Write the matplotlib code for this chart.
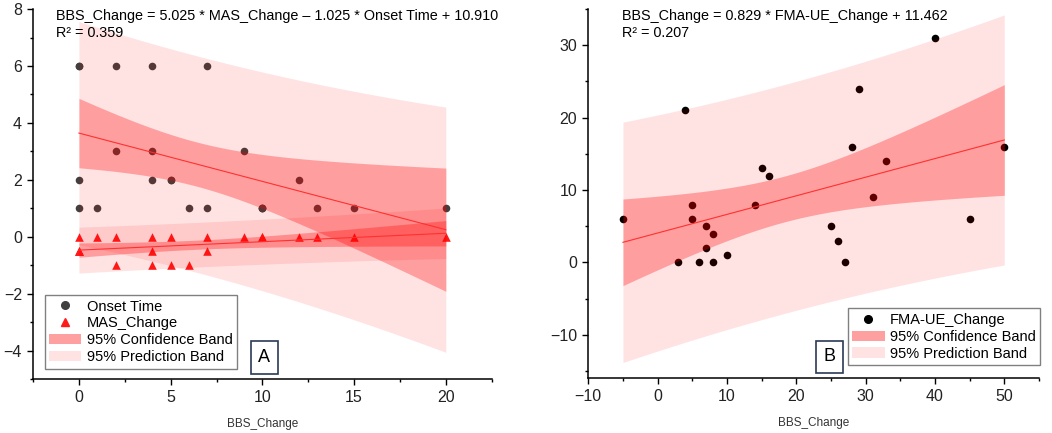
import numpy as np
import matplotlib
matplotlib.use('Agg')
from matplotlib import pyplot as plt
from matplotlib.lines import Line2D
from matplotlib.patches import Patch

plt.rcParams['font.family'] = ['Liberation Sans', 'DejaVu Sans']

# panel A data (x = BBS_Change); some points sit on top of each other
a_onset_x = [0, 0, 0, 0, 1, 2, 2, 4, 4, 4, 5, 5, 6, 7, 7, 9, 10, 10, 10, 12, 13, 15, 20]
a_onset_y = [6, 6, 2, 1, 1, 6, 3, 6, 3, 2, 2, 2, 1, 6, 1, 3, 1, 1, 1, 2, 1, 1, 1]
a_mas_x = [0, 0, 0, 0, 1, 2, 2, 4, 4, 4, 5, 5, 6, 7, 7, 9, 10, 10, 10, 12, 13, 15, 20]
a_mas_y = [0, -0.5, -0.5, -0.5, 0, 0, -1, 0, -0.5, -1, 0, -1, -1, 0, -0.5, 0, 0, 0, 0, 0, 0, 0, 0]

# panel B data
b_x = [-5, 3, 4, 5, 5, 6, 7, 7, 8, 8, 10, 14, 15, 16, 25, 26, 27, 28, 29, 31, 33, 40, 45, 50]
b_y = [6, 0, 21, 8, 6, 0, 5, 2, 4, 0, 1, 8, 13, 12, 5, 3, 0, 16, 24, 9, 14, 31, 6, 16]

# t(0.975, df)
T975 = {15: 2.131, 16: 2.120, 17: 2.110, 18: 2.101, 19: 2.093, 20: 2.086,
        21: 2.080, 22: 2.074, 23: 2.069, 24: 2.064}

RED = '#ff0000'
CI_A = 0.30
PI_A = 0.11


def fit_bands(x, y):
    x = np.asarray(x, float)
    y = np.asarray(y, float)
    n = len(x)
    b, a = np.polyfit(x, y, 1)
    resid = y - (a + b * x)
    s = np.sqrt(np.sum(resid ** 2) / (n - 2))
    sxx = np.sum((x - x.mean()) ** 2)
    t = T975[n - 2]
    xs = np.linspace(x.min(), x.max(), 200)
    yh = a + b * xs
    se = np.sqrt(1.0 / n + (xs - x.mean()) ** 2 / sxx)
    ci = t * s * se
    pi = t * s * np.sqrt(1 + se ** 2)
    return xs, yh, ci, pi


def draw_fit(ax, x, y):
    xs, yh, ci, pi = fit_bands(x, y)
    ax.fill_between(xs, yh - pi, yh + pi, color=RED, alpha=PI_A, lw=0, zorder=3)
    ax.fill_between(xs, yh - ci, yh + ci, color=RED, alpha=CI_A, lw=0, zorder=3)
    ax.plot(xs, yh, color='#ff3030', lw=0.8, zorder=4)


def style(ax):
    for s in ['top', 'right']:
        ax.spines[s].set_visible(False)
    for s in ['left', 'bottom']:
        ax.spines[s].set_linewidth(1.1)
    ax.tick_params(which='major', direction='out', length=4.5, width=1, labelsize=11.5,
                   colors='black', labelcolor='#222222')
    ax.tick_params(which='minor', direction='out', length=2.5, width=1)
    ax.set_xlabel('BBS_Change', fontsize=8.5, color='#333333', labelpad=9)


def panel_tag(ax, x, y, letter):
    ax.text(x, y, letter, transform=ax.transAxes, fontsize=13, ha='center', va='center',
            bbox=dict(boxstyle='square,pad=0.42', facecolor='white', edgecolor='#2b3a55', lw=1.2))


pi_patch = Patch(facecolor='#ffe3e3', edgecolor='none')
ci_patch = Patch(facecolor='#ffa0a0', edgecolor='none')

fig = plt.figure(figsize=(10.52, 4.33), dpi=100)
axA = fig.add_axes([0.0314, 0.1247, 0.436, 0.8543])
axB = fig.add_axes([0.5592, 0.1263, 0.4284, 0.8527])

# panel A
axA.scatter(a_onset_x, a_onset_y, s=30, color='#404040', linewidths=0, zorder=2)
axA.scatter(a_mas_x, a_mas_y, s=38, marker='^', color='#ff1a1a', linewidths=0, zorder=2)
draw_fit(axA, a_onset_x, a_onset_y)
draw_fit(axA, a_mas_x, a_mas_y)
axA.set_xlim(-2.5, 22.5)
axA.set_ylim(-5, 8)
axA.set_xticks([0, 5, 10, 15, 20])
axA.set_xticks(np.arange(-2.5, 22.6, 2.5), minor=True)
axA.set_yticks([-4, -2, 0, 2, 4, 6, 8])
axA.set_yticks(np.arange(-5, 8.1, 1), minor=True)
style(axA)
axA.text(0.05, 0.981, 'BBS_Change = 5.025 * MAS_Change \u2013 1.025 * Onset Time + 10.910',
         transform=axA.transAxes, fontsize=10.4, va='center', ha='left')
axA.text(0.05, 0.935, 'R\u00b2 = 0.359', transform=axA.transAxes, fontsize=10.4,
         va='center', ha='left')
hA = [Line2D([], [], marker='o', ls='none', color='#404040', markersize=5.5),
      Line2D([], [], marker='^', ls='none', color='#ff1a1a', markersize=6),
      ci_patch, pi_patch]
legA = axA.legend(hA, ['Onset Time', 'MAS_Change', '95% Confidence Band', '95% Prediction Band'],
                  loc='lower left', bbox_to_anchor=(0.026, 0.028), fontsize=10.5,
                  fancybox=False, edgecolor='#808080', framealpha=1, borderpad=0.3,
                  labelspacing=0.2, handlelength=2.2, handletextpad=0.35, borderaxespad=0)
legA.get_frame().set_linewidth(1)
panel_tag(axA, 0.504, 0.058, 'A')

# panel B
axB.scatter(b_x, b_y, s=30, color='black', linewidths=0, zorder=2)
draw_fit(axB, b_x, b_y)
axB.set_xlim(-10, 55)
axB.set_ylim(-16, 35)
axB.set_xticks([-10, 0, 10, 20, 30, 40, 50])
axB.set_xticks(np.arange(-10, 55.1, 5), minor=True)
axB.set_yticks([-10, 0, 10, 20, 30])
axB.set_yticks(np.arange(-15, 35.1, 5), minor=True)
style(axB)
axB.text(0.074, 0.981, 'BBS_Change = 0.829 * FMA-UE_Change + 11.462',
         transform=axB.transAxes, fontsize=10.4, va='center', ha='left')
axB.text(0.074, 0.935, 'R\u00b2 = 0.207', transform=axB.transAxes, fontsize=10.4,
         va='center', ha='left')
hB = [Line2D([], [], marker='o', ls='none', color='black', markersize=5.5),
      ci_patch, pi_patch]
legB = axB.legend(hB, ['FMA-UE_Change', '95% Confidence Band', '95% Prediction Band'],
                  loc='lower right', bbox_to_anchor=(1.002, 0.036), fontsize=10.5,
                  fancybox=False, edgecolor='#808080', framealpha=1, borderpad=0.3,
                  labelspacing=0.2, handlelength=2.2, handletextpad=0.35, borderaxespad=0)
legB.get_frame().set_linewidth(1)
panel_tag(axB, 0.536, 0.058, 'B')

fig.savefig('out.png', dpi=100)
